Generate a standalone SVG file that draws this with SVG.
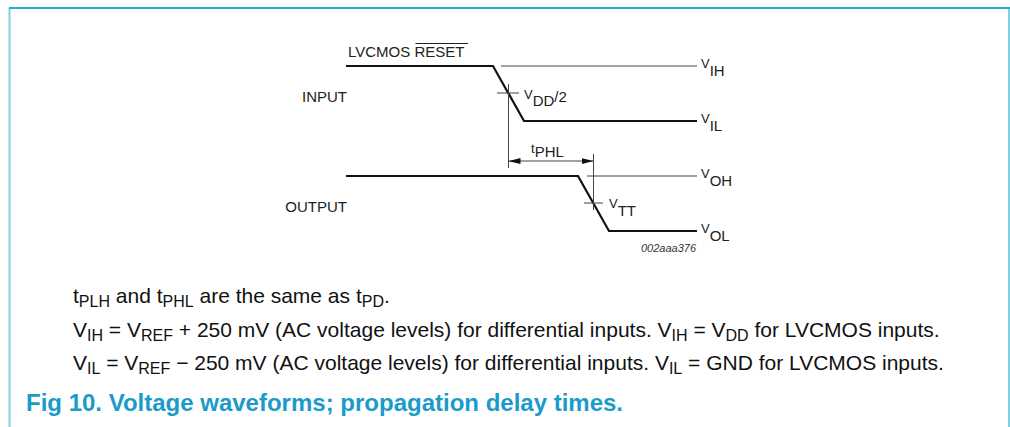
<svg xmlns="http://www.w3.org/2000/svg" width="1010" height="427" viewBox="0 0 1010 427">
<style>
.lbl{font-family:"Liberation Sans",Arial,sans-serif;font-size:15px;fill:#222}
.sub{font-size:15px}
.vv{font-size:13px}
.body{font-family:"Liberation Sans",Arial,sans-serif;font-size:21px;fill:#111}
.bs{font-size:16px}
.cap{font-family:"Liberation Sans",Arial,sans-serif;font-size:24px;font-weight:bold;fill:#1a9bc9}
.thick{stroke:#111;stroke-width:2.2;fill:none}
.thin{stroke:#444;stroke-width:1;fill:none}
</style>
<defs>
<marker id="ah" markerWidth="12" markerHeight="6" refX="12" refY="3" orient="auto-start-reverse" markerUnits="userSpaceOnUse">
<path d="M0,0 L12,3 L0,6 Z" fill="#111"/>
</marker>
</defs>
<rect width="1010" height="427" fill="#fff"/>
<g id="frame">
<line x1="9.5" y1="8" x2="9.5" y2="427" stroke="#7fd0e2" stroke-width="2"/>
<line x1="1009" y1="8" x2="1009" y2="427" stroke="#7fd0e2" stroke-width="2"/>
<line x1="9" y1="8" x2="1010" y2="8" stroke="#22b0d2" stroke-width="2"/>
</g>
<g id="connectors">
<polyline class="thick" points="346,66 493,66 524,121 697,121"/>
<line class="thin" x1="501" y1="66" x2="697" y2="66"/>
<line class="thin" x1="508.5" y1="84" x2="508.5" y2="168"/>
<line class="thin" x1="497" y1="93" x2="519" y2="93"/>
<polyline class="thick" points="346,176 578,176 609,231 697,231"/>
<line class="thin" x1="587" y1="176" x2="697" y2="176"/>
<line class="thin" x1="593.5" y1="154" x2="593.5" y2="210"/>
<line class="thin" x1="584" y1="203" x2="603" y2="203"/>
<line class="thin" x1="508.5" y1="161" x2="593.5" y2="161" marker-start="url(#ah)" marker-end="url(#ah)"/>
</g>
<g id="input-label"><text class="lbl" x="347" y="102" text-anchor="end">INPUT</text></g>
<g id="output-label"><text class="lbl" x="347" y="212" text-anchor="end">OUTPUT</text></g>
<g id="lvcmos-label">
<text class="lbl" x="348" y="57">LVCMOS RESET</text>
<line x1="415.5" y1="43.5" x2="468" y2="43.5" stroke="#222" stroke-width="1"/>
</g>
<g id="vih"><text class="lbl" x="701" y="72"><tspan class="vv" dy="-4">V</tspan><tspan class="sub" dy="8">IH</tspan></text></g>
<g id="vil"><text class="lbl" x="701" y="127"><tspan class="vv" dy="-4">V</tspan><tspan class="sub" dy="8">IL</tspan></text></g>
<g id="voh"><text class="lbl" x="701" y="182"><tspan class="vv" dy="-4">V</tspan><tspan class="sub" dy="8">OH</tspan></text></g>
<g id="vol"><text class="lbl" x="701" y="237"><tspan class="vv" dy="-4">V</tspan><tspan class="sub" dy="8">OL</tspan></text></g>
<g id="vdd2"><text class="lbl" x="524" y="99"><tspan class="vv">V</tspan><tspan class="sub" dy="7">DD</tspan><tspan dy="-4">/2</tspan></text></g>
<g id="vtt"><text class="lbl" x="609" y="208"><tspan class="vv">V</tspan><tspan class="sub" dy="8">TT</tspan></text></g>
<g id="tphl"><text class="lbl" x="531" y="153"><tspan class="vv">t</tspan><tspan class="sub" dy="4">PHL</tspan></text></g>
<g id="code"><text x="641" y="252" style="font-family:'Liberation Sans',Arial,sans-serif;font-size:11px;font-style:italic;fill:#333">002aaa376</text></g>
<g id="notes">
<text class="body" x="73" y="303">t<tspan class="bs" dy="4">PLH</tspan><tspan dy="-4"> and t</tspan><tspan class="bs" dy="4">PHL</tspan><tspan dy="-4"> are the same as t</tspan><tspan class="bs" dy="4">PD</tspan><tspan dy="-4">.</tspan></text>
<text class="body" x="73" y="337">V<tspan class="bs" dy="4">IH</tspan><tspan dy="-4"> = V</tspan><tspan class="bs" dy="4">REF</tspan><tspan dy="-4"> + 250 mV (AC voltage levels) for differential inputs. V</tspan><tspan class="bs" dy="4">IH</tspan><tspan dy="-4"> = V</tspan><tspan class="bs" dy="4">DD</tspan><tspan dy="-4"> for LVCMOS inputs.</tspan></text>
<text class="body" x="73" y="370">V<tspan class="bs" dy="4">IL</tspan><tspan dy="-4"> = V</tspan><tspan class="bs" dy="4">REF</tspan><tspan dy="-4"> − 250 mV (AC voltage levels) for differential inputs. V</tspan><tspan class="bs" dy="4">IL</tspan><tspan dy="-4"> = GND for LVCMOS inputs.</tspan></text>
</g>
<g id="caption"><text class="cap" x="26" y="411">Fig 10.  Voltage waveforms; propagation delay times.</text></g>
</svg>
